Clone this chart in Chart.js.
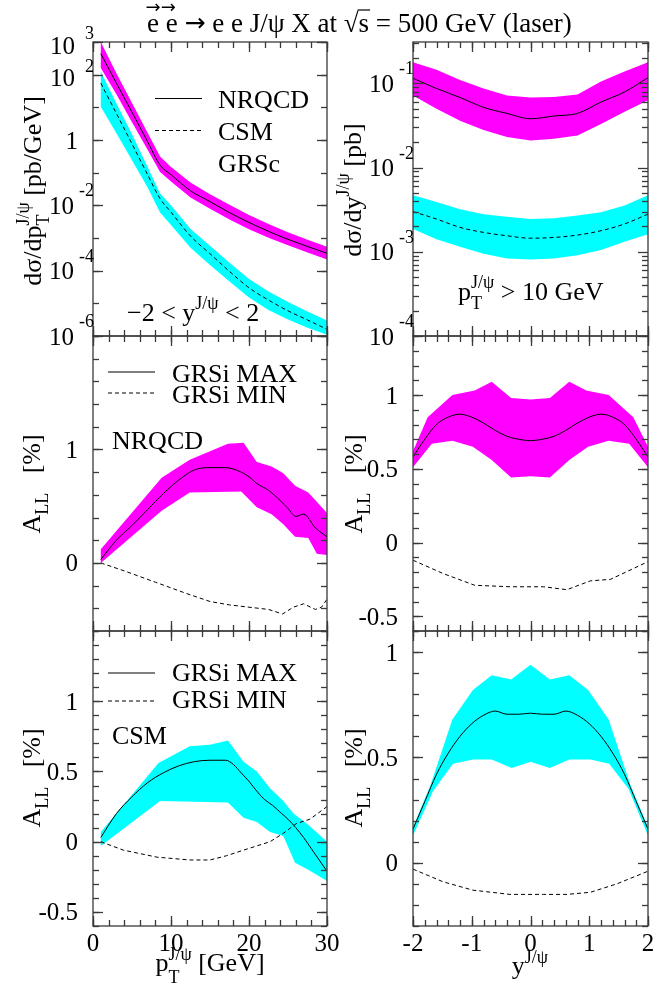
<!DOCTYPE html>
<html><head><meta charset="utf-8">
<script src="https://cdn.jsdelivr.net/npm/chart.js@4.4.1/dist/chart.umd.min.js"></script>
<style>
html,body{margin:0;padding:0;background:#fff;}
#wrap{position:relative;width:672px;height:992px;overflow:hidden;background:#fff;}
canvas{position:absolute;left:0;top:0;}
</style></head>
<body><div id="wrap">
<canvas id="c0" width="672" height="992"></canvas>
<canvas id="c1" width="672" height="992"></canvas>
<canvas id="c2" width="672" height="992"></canvas>
<canvas id="c3" width="672" height="992"></canvas>
<canvas id="c4" width="672" height="992"></canvas>
<canvas id="c5" width="672" height="992"></canvas>
</div>
<script>
// ---------------- DATA ----------------
// Top-left: dsigma/dpT (pb/GeV), -2 < y < 2
const ptGrid = [1, 3, 5, 7, 8.6, 10, 12.5, 15, 17.5, 20, 22.5, 25, 27.5, 30];
const nrqcdPtCentral = [4.4e2, 5.5e1, 7.1, 0.89, 0.17, 8.7e-2, 2.8e-2, 1.3e-2, 6.0e-3, 3.0e-3, 1.6e-3, 9.1e-4, 5.5e-4, 3.4e-4];
const nrqcdPtUpper   = [1.0e3, 1.1e2, 13.5, 1.66, 0.31, 0.15, 5.0e-2, 2.2e-2, 1.05e-2, 5.1e-3, 2.7e-3, 1.5e-3, 8.9e-4, 5.4e-4];
const nrqcdPtLower   = [1.6e2, 25, 3.5, 0.50, 0.105, 5.4e-2, 1.74e-2, 7.9e-3, 3.7e-3, 1.86e-3, 1.02e-3, 6.0e-4, 3.6e-4, 2.2e-4];
const csmPtCentral   = [55, 6.5, 0.76, 8.7e-2, 1.6e-2, 6.2e-3, 1.15e-3, 3.3e-4, 9.5e-5, 3.0e-5, 1.26e-5, 5.9e-6, 3.1e-6, 1.6e-6];
const csmPtUpper     = [126, 13.2, 1.5, 0.15, 2.3e-2, 1.0e-2, 1.9e-3, 5.8e-4, 1.74e-4, 5.6e-5, 2.3e-5, 1.1e-5, 5.6e-6, 3.0e-6];
const csmPtLower     = [10.5, 1.6, 0.24, 3.5e-2, 6.0e-3, 2.5e-3, 5.0e-4, 1.5e-4, 4.7e-5, 1.5e-5, 6.3e-6, 3.2e-6, 1.8e-6, 1.1e-6];

// Top-right: dsigma/dy (pb), pT > 10 GeV
const yGrid = [-2, -1.6, -1.2, -0.8, -0.4, 0, 0.4, 0.8, 1.2, 1.6, 2];
const nrqcdYCentral = [0.115, 0.087, 0.068, 0.052, 0.044, 0.038, 0.041, 0.044, 0.060, 0.079, 0.117];
const nrqcdYUpper   = [0.178, 0.145, 0.110, 0.087, 0.072, 0.068, 0.069, 0.074, 0.105, 0.138, 0.178];
const nrqcdYLower   = [0.072, 0.050, 0.036, 0.028, 0.023, 0.021, 0.022, 0.024, 0.033, 0.046, 0.063];
const csmYCentral   = [3.0e-3, 2.45e-3, 1.95e-3, 1.7e-3, 1.55e-3, 1.45e-3, 1.48e-3, 1.58e-3, 1.78e-3, 2.14e-3, 2.8e-3];
const csmYUpper     = [4.7e-3, 3.9e-3, 3.2e-3, 2.8e-3, 2.6e-3, 2.45e-3, 2.5e-3, 2.7e-3, 2.95e-3, 3.55e-3, 4.7e-3];
const csmYLower     = [1.86e-3, 1.41e-3, 1.15e-3, 9.5e-4, 8.3e-4, 8.1e-4, 8.3e-4, 9.1e-4, 1.05e-3, 1.32e-3, 1.62e-3];

// Middle-left: A_LL NRQCD vs pT (%)
const allNrqcdPtMaxX = [1, 3, 5, 7, 9, 11, 13, 15, 17, 19, 20, 21, 22.5, 24, 25, 26, 27, 28.5, 30];
const allNrqcdPtMax  = [0.03, 0.20, 0.33, 0.47, 0.61, 0.73, 0.82, 0.84, 0.84, 0.80, 0.76, 0.70, 0.64, 0.55, 0.48, 0.41, 0.43, 0.31, 0.23];
const allNrqcdPtBandTopX = [1, 8.8, 12.4, 17.3, 19.3, 21, 22.9, 24.4, 25.9, 27.6, 30];
const allNrqcdPtBandTop  = [0.12, 0.75, 0.91, 1.05, 1.06, 0.89, 0.85, 0.79, 0.68, 0.62, 0.44];
const allNrqcdPtBandBotX = [1, 8.8, 12.4, 19.0, 21, 22.9, 24.4, 25.9, 27.6, 28.7, 30];
const allNrqcdPtBandBot  = [0.0, 0.46, 0.62, 0.63, 0.49, 0.43, 0.34, 0.23, 0.22, 0.08, 0.07];
const allNrqcdPtMinX = [1, 4, 8, 12, 15, 17.5, 20, 22.5, 24.3, 25.7, 27, 28.5, 29.3, 30];
const allNrqcdPtMin  = [0, -0.07, -0.17, -0.27, -0.34, -0.37, -0.39, -0.41, -0.45, -0.39, -0.36, -0.41, -0.39, -0.32];

// Middle-right: A_LL NRQCD vs y (%)
const allYGrid = [-2, -1.8, -1.6, -1.4, -1.2, -1, -0.8, -0.6, -0.4, -0.2, 0, 0.2, 0.4, 0.6, 0.8, 1, 1.2, 1.4, 1.6, 1.8, 2];
const allNrqcdYMax = [0.58, 0.70, 0.80, 0.85, 0.87, 0.85, 0.81, 0.76, 0.72, 0.70, 0.69, 0.70, 0.72, 0.76, 0.81, 0.85, 0.87, 0.85, 0.80, 0.70, 0.58];
const allNrqcdYBandTopX = [-2, -1.75, -1.33, -0.95, -0.66, -0.33, 0, 0.33, 0.66, 0.95, 1.33, 1.75, 2];
const allNrqcdYBandTop  = [0.62, 0.85, 1.0, 1.03, 1.09, 0.98, 0.97, 0.98, 1.09, 1.03, 1.0, 0.85, 0.65];
const allNrqcdYBandBotX = [-2, -1.68, -1.33, -0.98, -0.66, -0.33, 0, 0.33, 0.66, 0.98, 1.33, 1.68, 2];
const allNrqcdYBandBot  = [0.51, 0.67, 0.69, 0.65, 0.56, 0.44, 0.45, 0.44, 0.56, 0.65, 0.69, 0.67, 0.51];
const allNrqcdYMinX = [-2, -1.49, -0.95, -0.35, 0.22, 0.62, 1.02, 1.36, 2];
const allNrqcdYMin  = [-0.12, -0.21, -0.29, -0.30, -0.30, -0.32, -0.26, -0.25, -0.13];

// Bottom-left: A_LL CSM vs pT (%)
const allCsmPtMaxX = [1, 3, 5, 7, 9, 11, 13, 15, 17, 18, 19, 20, 21, 22, 23, 24, 25, 26, 27, 28, 29, 30];
const allCsmPtMax  = [0.03, 0.20, 0.32, 0.42, 0.49, 0.54, 0.57, 0.58, 0.58, 0.55, 0.49, 0.43, 0.36, 0.30, 0.26, 0.21, 0.16, 0.10, 0.03, -0.05, -0.13, -0.21];
const allCsmPtBandTopX = [1, 8.4, 12.4, 15, 17.3, 19.3, 21, 22.7, 24.4, 25.7, 27.6, 30];
const allCsmPtBandTop  = [0.07, 0.56, 0.68, 0.69, 0.72, 0.57, 0.50, 0.38, 0.29, 0.20, 0.12, 0.0];
const allCsmPtBandBotX = [1, 8.6, 17.3, 19.3, 21, 22.7, 24.4, 25.9, 27.6, 30];
const allCsmPtBandBot  = [-0.03, 0.29, 0.28, 0.17, 0.14, 0.07, 0.04, -0.15, -0.20, -0.28];
const allCsmPtMinX = [1, 3.9, 8.2, 12.4, 15, 17.1, 19.3, 21, 22.7, 24.4, 26.1, 27.8, 30];
const allCsmPtMin  = [0, -0.06, -0.11, -0.13, -0.13, -0.10, -0.06, -0.03, 0.0, 0.06, 0.13, 0.16, 0.25];

// Bottom-right: A_LL CSM vs y (%)
const allCsmYMax = [0.16, 0.29, 0.42, 0.52, 0.60, 0.66, 0.70, 0.72, 0.705, 0.705, 0.71, 0.705, 0.705, 0.72, 0.70, 0.66, 0.60, 0.52, 0.42, 0.29, 0.16];
const allCsmYBandTopX = [-2, -1.7, -1.33, -0.98, -0.66, -0.33, 0, 0.33, 0.66, 0.98, 1.33, 1.7, 2];
const allCsmYBandTop  = [0.17, 0.37, 0.68, 0.82, 0.89, 0.87, 0.94, 0.87, 0.89, 0.82, 0.68, 0.37, 0.17];
const allCsmYBandBotX = [-2, -1.66, -1.32, -0.98, -0.66, -0.32, 0, 0.33, 0.66, 1.02, 1.34, 1.67, 2];
const allCsmYBandBot  = [0.13, 0.34, 0.47, 0.49, 0.49, 0.45, 0.48, 0.45, 0.49, 0.49, 0.47, 0.35, 0.13];
const allCsmYMinX = [-2, -1.49, -0.98, -0.35, 0.22, 0.62, 1.02, 1.47, 2];
const allCsmYMin  = [-0.03, -0.09, -0.13, -0.15, -0.15, -0.15, -0.14, -0.10, -0.04];

// Tick values and labels
const ptTicks = [0, 10, 20, 30];
const ptTickLabels = ['0', '10', '20', '30'];
const rapTicks = [-2, -1, 0, 1, 2];
const rapTickLabels = ['-2', '-1', '0', '1', '2'];
const sigPtTicks = [1e3, 1e2, 1, 1e-2, 1e-4, 1e-6];
const sigPtTickLabels = ['10^3', '10^2', '1', '10^-2', '10^-4', '10^-6'];
const sigYTicks = [1e-1, 1e-2, 1e-3, 1e-4];
const sigYTickLabels = ['10^-1', '10^-2', '10^-3', '10^-4'];
const allNrqcdPtTicks = [0, 1];
const allNrqcdPtTickLabels = ['0', '1'];
const allNrqcdYTicks = [-0.5, 0, 0.5, 1];
const allNrqcdYTickLabels = ['-0.5', '0', '0.5', '1'];
const allCsmPtTicks = [-0.5, 0, 0.5, 1];
const allCsmPtTickLabels = ['-0.5', '0', '0.5', '1'];
const allCsmYTicks = [0, 0.5, 1];
const allCsmYTickLabels = ['0', '0.5', '1'];

// ---------------- HELPERS ----------------
const MAGENTA = '#ff00ff', CYAN = '#00ffff';
const FAM = '"Liberation Serif","Times New Roman",serif';
const fnt = (s, fam) => s + 'px ' + (fam || FAM);
const BASE = 26, SMALL = 18, TICK = 25, EXP = 18;

function pts(xs, ys) { return xs.map((x, i) => ({x: x, y: ys[i]})); }
function polygon(xt, yt, xb, yb) { return pts(xt, yt).concat(pts(xb, yb).reverse()); }
function range(a, b, step) { const out = []; const n = Math.round((b - a) / step); for (let i = 0; i <= n; i++) out.push(+(a + i * step).toFixed(6)); return out; }
function logMinor(minExp, maxExp) { const out = []; for (let e = minExp; e < maxExp; e++) for (let m = 2; m <= 9; m++) out.push(m * Math.pow(10, e)); return out; }
function logMajor(minExp, maxExp) { const out = []; for (let e = minExp; e <= maxExp; e++) out.push(Math.pow(10, e)); return out; }

function layoutRich(ctx, segs, base) {
  let maxEnd = 0, prevStart = 0, prevW = 0; const items = [];
  for (const s of segs) {
    const size = s.s || base; ctx.font = fnt(size, s.ff);
    const w = ctx.measureText(s.t).width;
    let start;
    if (s.ov) start = s.c ? prevStart + (prevW - w) / 2 : prevStart;
    else start = maxEnd;
    items.push({s: s, size: size, start: start, w: w});
    if (!s.ov) { prevStart = start; prevW = w; }
    if (!s.c) maxEnd = Math.max(maxEnd, start + w);
  }
  return {items: items, width: maxEnd};
}
function drawRich(ctx, segs, x, y, opt) {
  opt = opt || {};
  ctx.save(); ctx.translate(x, y); if (opt.rot) ctx.rotate(opt.rot);
  const L = layoutRich(ctx, segs, opt.size || BASE);
  const off = opt.align === 'center' ? -L.width / 2 : opt.align === 'right' ? -L.width : 0;
  ctx.fillStyle = '#000'; ctx.textAlign = 'left'; ctx.textBaseline = 'alphabetic';
  for (const it of L.items) {
    ctx.font = fnt(it.size, it.s.ff);
    ctx.fillText(it.s.t, off + it.start, it.s.dy || 0);
    if (it.s.bar) { ctx.strokeStyle = '#000'; ctx.lineWidth = 1.2; ctx.beginPath(); ctx.moveTo(off + it.start - 1, (it.s.dy || 0) - 22); ctx.lineTo(off + it.start + it.w + 1, (it.s.dy || 0) - 22); ctx.stroke(); }
  }
  ctx.restore();
}

const framePlugin = {
  id: 'frame',
  afterDraw(chart, args, o) {
    const ctx = chart.ctx, a = chart.chartArea, xs = chart.scales.x, ys = chart.scales.y;
    ctx.save();
    ctx.strokeStyle = '#3a3a3a'; ctx.lineWidth = 1.3;
    const seg = (x1, y1, x2, y2) => { ctx.beginPath(); ctx.moveTo(x1, y1); ctx.lineTo(x2, y2); ctx.stroke(); };
    const xt = (list, len) => list.forEach(v => { const p = Math.round(xs.getPixelForValue(v)) + 0.5; seg(p, a.top, p, a.top + len); seg(p, a.bottom, p, a.bottom - len); });
    const yt = (list, len) => list.forEach(v => { const p = Math.round(ys.getPixelForValue(v)) + 0.5; if (p < a.top - 1 || p > a.bottom + 1) return; seg(a.left, p, a.left + len, p); seg(a.right, p, a.right - len, p); });
    xt(o.xMinor, 6); xt(o.xMajor, 10); yt(o.yMinor, 6); yt(o.yMajor, 10);
    ctx.strokeRect(a.left, a.top, a.right - a.left, a.bottom - a.top);
    // y tick labels
    ctx.fillStyle = '#000'; ctx.textBaseline = 'alphabetic';
    (o.yLabels || []).forEach(([v, t]) => {
      const p = ys.getPixelForValue(v);
      if (t.indexOf('^') >= 0) {
        const [b, e] = t.split('^');
        if (e[0] === '-') {
          ctx.font = fnt(TICK); ctx.textAlign = 'right'; ctx.fillText(b, a.left - 19, p + 8.5);
          ctx.font = fnt(EXP); ctx.textAlign = 'right'; ctx.fillText(e, a.left + 1, p - 15 + 6);
        } else {
          ctx.font = fnt(TICK); ctx.textAlign = 'right'; ctx.fillText(b, a.left - 18, p + 3 + 8.5);
          ctx.font = fnt(EXP); ctx.textAlign = 'left'; ctx.fillText(e, a.left - 8, p - 9 + 6);
        }
      } else {
        ctx.font = fnt(TICK); ctx.textAlign = 'right'; ctx.fillText(t, a.left - 15, p + 8.5);
      }
    });
    (o.xLabels || []).forEach(([v, t]) => {
      const p = xs.getPixelForValue(v);
      ctx.font = fnt(TICK); ctx.textAlign = 'center'; ctx.fillText(t, p, 951);
    });
    // legend samples
    (o.samples || []).forEach(s => {
      ctx.strokeStyle = '#000'; ctx.lineWidth = 1; ctx.setLineDash(s.dash ? [4, 3] : []);
      seg(s.x1, s.y, s.x2, s.y); ctx.setLineDash([]);
    });
    (o.texts || []).forEach(t => drawRich(ctx, t.segs, t.x, t.y, t));
    ctx.restore();
  }
};

function band(data, color, order) {
  return {data: data, showLine: true, fill: 'shape', backgroundColor: color, borderColor: 'rgba(0,0,0,0)', borderWidth: 0, pointRadius: 0, tension: 0, order: order};
}
function curve(data, dashed, smooth, order) {
  return {data: data, showLine: true, fill: false, borderColor: '#000', borderWidth: 1, borderDash: dashed ? [4, 3] : [], pointRadius: 0,
    tension: 0, cubicInterpolationMode: smooth ? 'monotone' : 'default', order: order};
}

const LEFT = {l: 93, r: 327}, RIGHT = {l: 413, r: 648};
const ROWS = [[42, 336], [336, 631], [631, 926]];
function makeChart(id, col, row, xCfg, yCfg, datasets, frame) {
  return new Chart(document.getElementById(id), {
    type: 'scatter',
    data: {datasets: datasets},
    options: {
      responsive: false, animation: false, devicePixelRatio: 1, events: [],
      layout: {padding: {left: col.l, right: 672 - col.r, top: ROWS[row][0], bottom: 992 - ROWS[row][1]}},
      scales: {x: Object.assign({display: false}, xCfg), y: Object.assign({display: false}, yCfg)},
      plugins: {legend: {display: false}, tooltip: {enabled: false}, frame: frame}
    },
    plugins: [framePlugin]
  });
}

const xPt = {type: 'linear', min: 0, max: 30};
const xRap = {type: 'linear', min: -2, max: 2};
const ptMinor = range(0, 30, 2), rapMinor = range(-2, 2, 0.2);
const aLL = [{t: 'A'}, {t: 'LL', s: SMALL, dy: 8}, {t: '   [%]'}];
const ROT = -Math.PI / 2;
const ARROWFAM = '"DejaVu Sans",sans-serif';

// 0: top-left
makeChart('c0', LEFT, 0, xPt, {type: 'logarithmic', min: 1e-6, max: 1e3}, [
  curve(pts(ptGrid, nrqcdPtCentral), false, true, 1),
  curve(pts(ptGrid, csmPtCentral), true, true, 2),
  band(polygon(ptGrid, csmPtUpper, ptGrid, csmPtLower), CYAN, 3),
  band(polygon(ptGrid, nrqcdPtUpper, ptGrid, nrqcdPtLower), MAGENTA, 4)
], {
  xMinor: ptMinor, xMajor: ptTicks, yMinor: logMajor(-6, 3), yMajor: sigPtTicks,
  yLabels: sigPtTicks.map((v, i) => [v, sigPtTickLabels[i]]),
  samples: [{x1: 155, x2: 202, y: 98.5}, {x1: 155, x2: 202, y: 130.5, dash: true}],
  texts: [
    {segs: [{t: 'e'}, {t: '→', s: 18, ff: ARROWFAM, dy: -19, ov: 1, c: 1}, {t: ' e'}, {t: '→', s: 18, ff: ARROWFAM, dy: -19, ov: 1, c: 1},
            {t: ' '}, {t: '→', ff: ARROWFAM, s: 25, dy: -1}, {t: ' e e J/ψ X at √'}, {t: 's', bar: 1}, {t: ' = 500 GeV (laser)'}], x: 147, y: 32, size: 27},
    {segs: [{t: 'NRQCD'}], x: 218, y: 108},
    {segs: [{t: 'CSM'}], x: 218, y: 140},
    {segs: [{t: 'GRSc'}], x: 218, y: 172},
    {segs: [{t: '−2 < y'}, {t: 'J/ψ', s: SMALL, dy: -12}, {t: ' < 2'}], x: 127, y: 321},
    {segs: [{t: 'dσ/dp'}, {t: 'T', s: SMALL, dy: 8}, {t: 'J/ψ', s: SMALL, dy: -12, ov: 1}, {t: ' [pb/GeV]'}], x: 41, y: 191, rot: ROT, align: 'center'}
  ]
});

// 1: top-right
makeChart('c1', RIGHT, 0, xRap, {type: 'logarithmic', min: 1e-4, max: 0.31}, [
  curve(pts(yGrid, nrqcdYCentral), false, true, 1),
  curve(pts(yGrid, csmYCentral), true, true, 2),
  band(polygon(yGrid, csmYUpper, yGrid, csmYLower), CYAN, 3),
  band(polygon(yGrid, nrqcdYUpper, yGrid, nrqcdYLower), MAGENTA, 4)
], {
  xMinor: rapMinor, xMajor: rapTicks, yMinor: logMinor(-4, 0), yMajor: sigYTicks,
  yLabels: sigYTicks.map((v, i) => [v, sigYTickLabels[i]]),
  texts: [
    {segs: [{t: 'p'}, {t: 'T', s: SMALL, dy: 9}, {t: 'J/ψ', s: SMALL, dy: -12, ov: 1}, {t: ' > 10 GeV'}], x: 458, y: 300},
    {segs: [{t: 'dσ/dy'}, {t: 'J/ψ', s: SMALL, dy: -12}, {t: ' [pb]'}], x: 361, y: 190, rot: ROT, align: 'center'}
  ]
});

// 2: middle-left
makeChart('c2', LEFT, 1, xPt, {type: 'linear', min: -0.6, max: 2.0}, [
  curve(pts(allNrqcdPtMaxX, allNrqcdPtMax), false, true, 1),
  curve(pts(allNrqcdPtMinX, allNrqcdPtMin), true, false, 2),
  band(polygon(allNrqcdPtBandTopX, allNrqcdPtBandTop, allNrqcdPtBandBotX, allNrqcdPtBandBot), MAGENTA, 3)
], {
  xMinor: ptMinor, xMajor: ptTicks, yMinor: range(-0.6, 2.0, 0.2), yMajor: allNrqcdPtTicks,
  yLabels: allNrqcdPtTicks.map((v, i) => [v, allNrqcdPtTickLabels[i]]),
  samples: [{x1: 108, x2: 155, y: 372}, {x1: 108, x2: 155, y: 393, dash: true}],
  texts: [
    {segs: [{t: 'GRSi MAX'}], x: 172, y: 382},
    {segs: [{t: 'GRSi MIN'}], x: 172, y: 403},
    {segs: [{t: 'NRQCD'}], x: 112, y: 449},
    {segs: aLL, x: 40, y: 484, rot: ROT, align: 'center'}
  ]
});

// 3: middle-right
makeChart('c3', RIGHT, 1, xRap, {type: 'linear', min: -0.6, max: 1.4}, [
  curve(pts(allYGrid, allNrqcdYMax), false, true, 1),
  curve(pts(allNrqcdYMinX, allNrqcdYMin), true, false, 2),
  band(polygon(allNrqcdYBandTopX, allNrqcdYBandTop, allNrqcdYBandBotX, allNrqcdYBandBot), MAGENTA, 3)
], {
  xMinor: rapMinor, xMajor: rapTicks, yMinor: range(-0.6, 1.4, 0.1), yMajor: allNrqcdYTicks,
  yLabels: allNrqcdYTicks.map((v, i) => [v, allNrqcdYTickLabels[i]]),
  texts: [{segs: aLL, x: 362, y: 484, rot: ROT, align: 'center'}]
});

// 4: bottom-left
makeChart('c4', LEFT, 2, xPt, {type: 'linear', min: -0.6, max: 1.5}, [
  curve(pts(allCsmPtMaxX, allCsmPtMax), false, true, 1),
  curve(pts(allCsmPtMinX, allCsmPtMin), true, false, 2),
  band(polygon(allCsmPtBandTopX, allCsmPtBandTop, allCsmPtBandBotX, allCsmPtBandBot), CYAN, 3)
], {
  xMinor: ptMinor, xMajor: ptTicks, yMinor: range(-0.6, 1.5, 0.1), yMajor: allCsmPtTicks,
  yLabels: allCsmPtTicks.map((v, i) => [v, allCsmPtTickLabels[i]]),
  xLabels: ptTicks.map((v, i) => [v, ptTickLabels[i]]),
  samples: [{x1: 108, x2: 155, y: 673}, {x1: 108, x2: 155, y: 701, dash: true}],
  texts: [
    {segs: [{t: 'GRSi MAX'}], x: 172, y: 681},
    {segs: [{t: 'GRSi MIN'}], x: 172, y: 708},
    {segs: [{t: 'CSM'}], x: 112, y: 744},
    {segs: aLL, x: 40, y: 778, rot: ROT, align: 'center'},
    {segs: [{t: 'p'}, {t: 'T', s: SMALL, dy: 12}, {t: 'J/ψ', s: SMALL, dy: -11, ov: 1}, {t: ' [GeV]'}], x: 210, y: 971, align: 'center'}
  ]
});

// 5: bottom-right
makeChart('c5', RIGHT, 2, xRap, {type: 'linear', min: -0.3, max: 1.1}, [
  curve(pts(allYGrid, allCsmYMax), false, true, 1),
  curve(pts(allCsmYMinX, allCsmYMin), true, false, 2),
  band(polygon(allCsmYBandTopX, allCsmYBandTop, allCsmYBandBotX, allCsmYBandBot), CYAN, 3)
], {
  xMinor: rapMinor, xMajor: rapTicks, yMinor: range(-0.3, 1.1, 0.1), yMajor: allCsmYTicks,
  yLabels: allCsmYTicks.map((v, i) => [v, allCsmYTickLabels[i]]),
  xLabels: rapTicks.map((v, i) => [v, rapTickLabels[i]]),
  texts: [
    {segs: aLL, x: 362, y: 778, rot: ROT, align: 'center'},
    {segs: [{t: 'y'}, {t: 'J/ψ', s: SMALL, dy: -11}], x: 530, y: 974, align: 'center'}
  ]
});
</script>
</body></html>
